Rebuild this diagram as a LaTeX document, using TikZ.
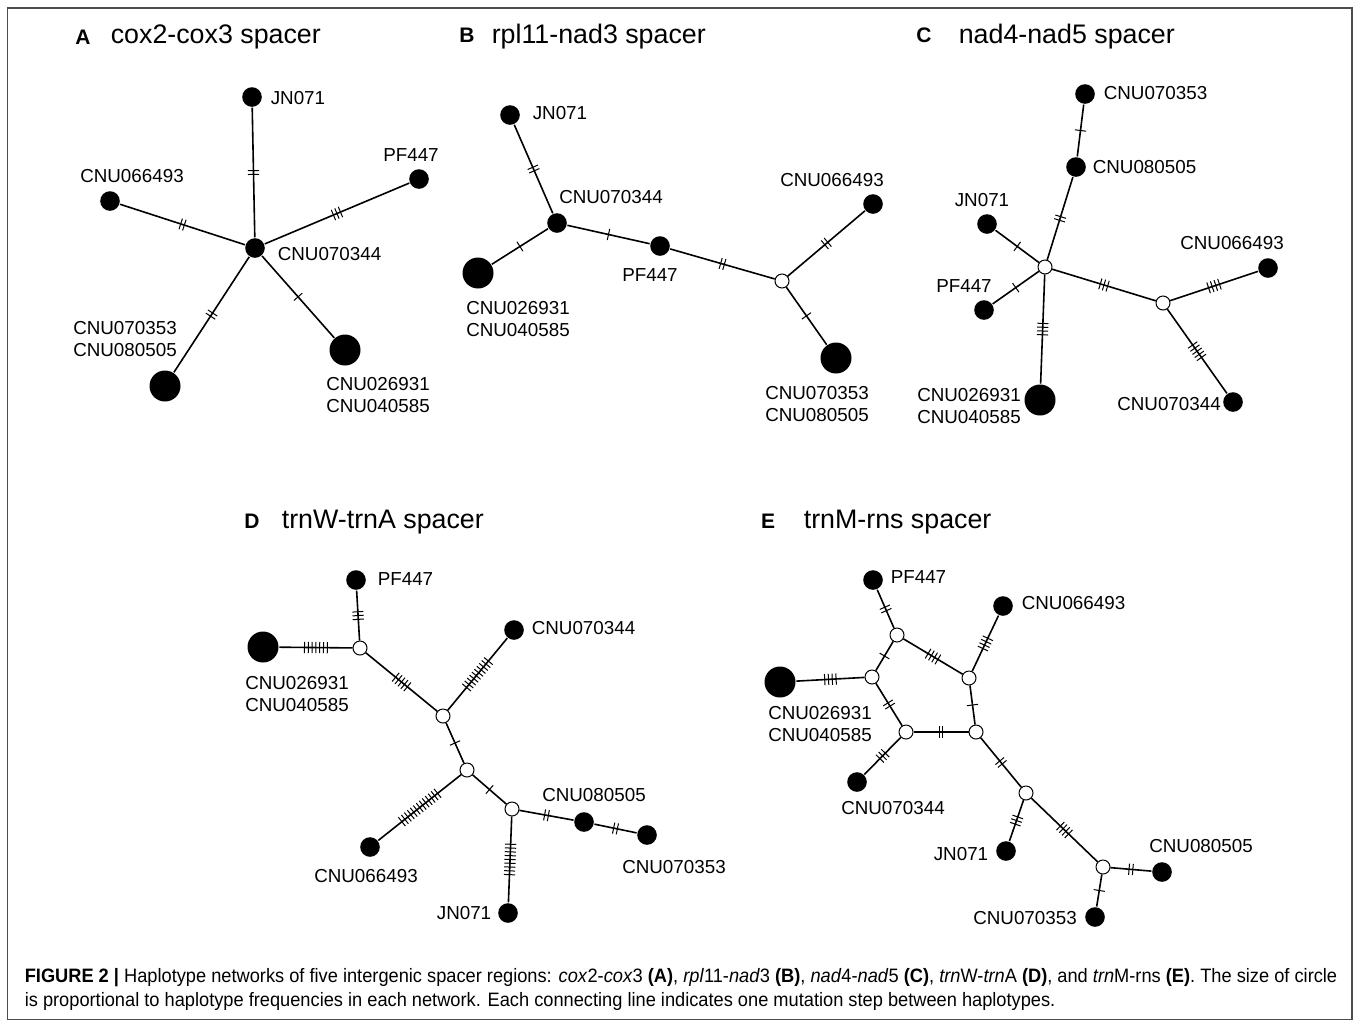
\documentclass[tikz,border=0pt]{standalone}
\usepackage{fontspec}
\setmainfont{Liberation Sans}
\newfontfamily\capfont[FakeStretch=0.94]{Liberation Sans}
\usetikzlibrary{decorations.markings,positioning}

\tikzset{
  hap/.style={circle, fill=black, inner sep=0, minimum size=9.8pt},
  big/.style={hap, minimum size=15.5pt},
  hub/.style={circle, draw, fill=white, inner sep=0, minimum size=7pt, line width=0.5pt},
  lab/.style={font=\fontsize{9.4}{11.3}\selectfont, align=center, inner sep=0},
  ttl/.style={font=\fontsize{13.4}{16}\selectfont, anchor=west, inner sep=0},
  let/.style={font=\fontsize{10.5}{12}\selectfont\bfseries, inner sep=0},
  mut/.style 2 args={postaction={decorate}, decoration={markings, mark=at position #2 with {
      \foreach \k in {1,...,#1}{\draw[line width=0.5pt] ({(\k-(#1+1)/2)*1.9pt},-2.8pt) -- ++(0,5.6pt);}
    }}},
}

\begin{document}
\begin{tikzpicture}[x=0.5pt, y=-0.5pt, line width=0.8pt]
    \useasboundingbox (0,0) rectangle (1360,1019);
    \draw[line width=0.6pt, black!70] (7.5,8) rectangle (1352,1019.5);

    % A
    \node[let] (At) at (83,37) {A};
    \node[ttl] (Att) at (110,37) {cox2-cox3 spacer};
    \node[hap] (a344) at (255,248) {};
    \node[hap] (aJN) at (252,97) {};
    \node[hap] (aPF) at (419,179) {};
    \node[hap] (a493) at (110,201) {};
    \node[big] (a353) at (165,386) {};
    \node[big] (a931) at (345,350) {};
    \draw[mut={2}{.5}] (a344) -- (aJN);
    \draw[mut={3}{.5}] (a344) -- (aPF);
    \draw[mut={2}{.5}] (a344) -- (a493);
    \draw[mut={2}{.5}] (a344) -- (a353);
    \draw[mut={1}{.5}] (a344) -- (a931);
    \node[lab, anchor=west] (la344) at (277,254) {CNU070344};
    \node[lab, anchor=west] (laJN) at (270,98) {JN071};
    \node[lab] (laPF) at (411,155) {PF447};
    \node[lab] (la493) at (132,176) {CNU066493};
    \node[lab] (la353) at (125,339) {CNU070353\\CNU080505};
    \node[lab] (la931) at (378,395) {CNU026931\\CNU040585};

    % B
    \node[let] (Bt) at (467,35) {B};
    \node[ttl] (Btt) at (491,37) {rpl11-nad3 spacer};
    \node[hap] (b344) at (557,223) {};
    \node[hap] (bJN) at (510,115) {};
    \node[big] (b931) at (478,273) {};
    \node[hap] (bPF) at (660,246) {};
    \node[hub] (bx) at (782,281) {};
    \node[hap] (b493) at (873,204) {};
    \node[big] (b353) at (836,358) {};
    \draw[mut={2}{.5}] (b344) -- (bJN);
    \draw[mut={1}{.5}] (b344) -- (b931);
    \draw[mut={1}{.5}] (b344) -- (bPF);
    \draw[mut={2}{.5}] (bPF) -- (bx);
    \draw[mut={2}{.5}] (bx) -- (b493);
    \draw[mut={1}{.5}] (bx) -- (b353);
    \node[lab, anchor=west] (lbJN) at (532,113) {JN071};
    \node[lab] (lb344) at (611,197) {CNU070344};
    \node[lab] (lb931) at (518,319) {CNU026931\\CNU040585};
    \node[lab] (lbPF) at (650,275) {PF447};
    \node[lab] (lb493) at (832,180) {CNU066493};
    \node[lab] (lb353) at (817,404) {CNU070353\\CNU080505};

    % C
    \node[let] (Ct) at (924,35) {C};
    \node[ttl] (Ctt) at (958,37) {nad4-nad5 spacer};
    \node[hap] (c353) at (1085,94) {};
    \node[hap] (c505) at (1076,167) {};
    \node[hap] (cJN) at (987,224) {};
    \node[hub] (cx1) at (1045,267) {};
    \node[hap] (cPF) at (984,310) {};
    \node[big] (c931) at (1040,400) {};
    \node[hub] (cx2) at (1163,303) {};
    \node[hap] (c493) at (1268,268) {};
    \node[hap] (c344) at (1233,402) {};
    \draw[mut={1}{.5}] (c353) -- (c505);
    \draw[mut={2}{.5}] (c505) -- (cx1);
    \draw[mut={1}{.5}] (cJN) -- (cx1);
    \draw[mut={1}{.5}] (cPF) -- (cx1);
    \draw[mut={4}{.5}] (cx1) -- (c931);
    \draw[mut={3}{.5}] (cx1) -- (cx2);
    \draw[mut={4}{.5}] (cx2) -- (c493);
    \draw[mut={5}{.5}] (cx2) -- (c344);
    \node[lab, anchor=west] (lc353) at (1103,93) {CNU070353};
    \node[lab, anchor=west] (lc505) at (1092,167) {CNU080505};
    \node[lab] (lcJN) at (982,200) {JN071};
    \node[lab] (lcPF) at (964,286) {PF447};
    \node[lab] (lc931) at (969,406) {CNU026931\\CNU040585};
    \node[lab] (lc493) at (1232,243) {CNU066493};
    \node[lab] (lc344) at (1169,404) {CNU070344};

    % D
    \node[let] (Dt) at (252,521) {D};
    \node[ttl] (Dtt) at (281,522) {trnW-trnA spacer};
    \node[hap] (dPF) at (356,580) {};
    \node[big] (d931) at (263,647) {};
    \node[hub] (dx1) at (360,648) {};
    \node[hap] (d344) at (514,630) {};
    \node[hub] (dx2) at (443,716) {};
    \node[hub] (dx3) at (467,770) {};
    \node[hub] (dx4) at (512,809) {};
    \node[hap] (d493) at (370,847) {};
    \node[hap] (dJN) at (508,913) {};
    \node[hap] (d505) at (584,822) {};
    \node[hap] (d353) at (647,835) {};
    \draw[mut={3}{.5}] (dPF) -- (dx1);
    \draw[mut={7}{.5}] (d931) -- (dx1);
    \draw[mut={5}{.5}] (dx1) -- (dx2);
    \draw[mut={10}{.5}] (dx2) -- (d344);
    \draw[mut={1}{.5}] (dx2) -- (dx3);
    \draw[mut={1}{.5}] (dx3) -- (dx4);
    \draw[mut={13}{.5}] (dx3) -- (d493);
    \draw[mut={9}{.5}] (dx4) -- (dJN);
    \draw[mut={2}{.5}] (dx4) -- (d505);
    \draw[mut={2}{.5}] (d505) -- (d353);
    \node[lab, anchor=west] (ldPF) at (377,579) {PF447};
    \node[lab] (ld931) at (297,694) {CNU026931\\CNU040585};
    \node[lab, anchor=west] (ld344) at (531,628) {CNU070344};
    \node[lab] (ld493) at (366,876) {CNU066493};
    \node[lab, anchor=east] (ldJN) at (492,913) {JN071};
    \node[lab] (ld505) at (594,795) {CNU080505};
    \node[lab] (ld353) at (674,867) {CNU070353};

    % E
    \node[let] (Et) at (768,521) {E};
    \node[ttl] (Ett) at (803,522) {trnM-rns spacer};
    \node[hap] (ePF) at (873,580) {};
    \node[hap] (e493) at (1003,606) {};
    \node[hub] (ex1) at (897,635) {};
    \node[hub] (ex2) at (969,678) {};
    \node[hub] (ex3) at (872,677) {};
    \node[big] (e931) at (780,682) {};
    \node[hub] (ex4) at (906,732) {};
    \node[hub] (ex5) at (976,732) {};
    \node[hap] (e344) at (857,782) {};
    \node[hub] (ex6) at (1026,793) {};
    \node[hap] (eJN) at (1006,851) {};
    \node[hub] (ex7) at (1103,867) {};
    \node[hap] (e505) at (1162,872) {};
    \node[hap] (e353) at (1095,917) {};
    \draw[mut={2}{.5}] (ePF) -- (ex1);
    \draw[mut={4}{.5}] (e493) -- (ex2);
    \draw[mut={4}{.5}] (ex1) -- (ex2);
    \draw[mut={1}{.5}] (ex1) -- (ex3);
    \draw[mut={4}{.5}] (e931) -- (ex3);
    \draw[mut={2}{.5}] (ex3) -- (ex4);
    \draw[mut={2}{.5}] (ex4) -- (ex5);
    \draw[mut={1}{.5}] (ex2) -- (ex5);
    \draw[mut={3}{.5}] (ex4) -- (e344);
    \draw[mut={2}{.5}] (ex5) -- (ex6);
    \draw[mut={3}{.5}] (ex6) -- (eJN);
    \draw[mut={4}{.5}] (ex6) -- (ex7);
    \draw[mut={2}{.5}] (ex7) -- (e505);
    \draw[mut={1}{.5}] (ex7) -- (e353);
    \node[lab, anchor=west] (lePF) at (890,577) {PF447};
    \node[lab, anchor=west] (le493) at (1021,603) {CNU066493};
    \node[lab] (le931) at (820,724) {CNU026931\\CNU040585};
    \node[lab] (le344) at (893,808) {CNU070344};
    \node[lab] (leJN) at (961,854) {JN071};
    \node[lab] (le505) at (1201,846) {CNU080505};
    \node[lab] (le353) at (1025,918) {CNU070353};

    % caption
    \node[anchor=west, align=left, inner sep=0, font=\capfont\fontsize{9.7}{12}\selectfont] (cap) at (24,989)
      {\textbf{FIGURE 2 |} Haplotype networks of five intergenic spacer regions: \textit{cox}2-\textit{cox}3 \textbf{(A)}, \textit{rpl}11-\textit{nad}3 \textbf{(B)}, \textit{nad}4-\textit{nad}5 \textbf{(C)}, \textit{trn}W-\textit{trn}A \textbf{(D)}, and \textit{trn}M-rns \textbf{(E)}. The size of circle\\
       is proportional to haplotype frequencies in each network. Each connecting line indicates one mutation step between haplotypes.};
\end{tikzpicture}
\end{document}
